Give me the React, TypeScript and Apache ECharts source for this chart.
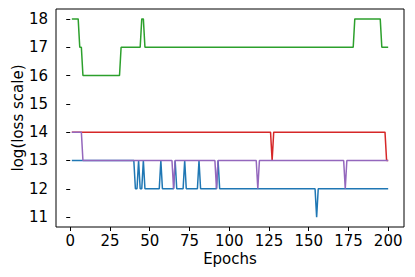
import React, { useEffect, useRef } from "react";
import * as echarts from "echarts";

// Run-length readings of each series: [firstEpoch, lastEpoch, log(loss scale)]
const blueRuns: [number, number, number][] = [
  [1, 40, 13], [41, 42, 12], [43, 43, 13], [44, 45, 12], [46, 46, 13],
  [47, 56, 12], [57, 57, 13], [58, 65, 12], [66, 66, 13], [67, 71, 12],
  [72, 72, 13], [73, 80, 12], [81, 81, 13], [82, 92, 12], [93, 93, 13],
  [94, 154, 12], [155, 155, 11], [156, 200, 12],
];
const greenRuns: [number, number, number][] = [
  [1, 5, 18], [6, 7, 17], [8, 31, 16], [32, 44, 17], [45, 46, 18],
  [47, 178, 17], [179, 195, 18], [196, 200, 17],
];
const redRuns: [number, number, number][] = [
  [1, 126, 14], [127, 127, 13], [128, 198, 14], [199, 200, 13],
];
const purpleRuns: [number, number, number][] = [
  [1, 7, 14], [8, 64, 13], [65, 65, 12], [66, 91, 13], [92, 92, 12],
  [93, 117, 13], [118, 118, 12], [119, 172, 13], [173, 173, 12], [174, 200, 13],
];

const xTicks = [0, 25, 50, 75, 100, 125, 150, 175, 200];
const yTicks = [11, 12, 13, 14, 15, 16, 17, 18];

const seriesColors = ["#1f77b4", "#2ca02c", "#d62728", "#9467bd"];

function expand(runs: [number, number, number][]): [number, number][] {
  const out: [number, number][] = [];
  for (const [a, b, v] of runs) {
    for (let e = a; e <= b; e++) out.push([e, v]);
  }
  return out;
}

const FONT = "DejaVu Sans";

export default function App() {
  const ref = useRef<HTMLDivElement>(null);
  useEffect(() => {
    if (!ref.current) return;
    const chart = echarts.init(ref.current, undefined, { renderer: "svg" });
    const all = [blueRuns, greenRuns, redRuns, purpleRuns];
    chart.setOption({
      animation: false,
      backgroundColor: "#ffffff",
      grid: {
        left: 56,
        top: 9,
        width: 348,
        height: 218,
        outerBoundsMode: "none",
        containLabel: false,
        show: true,
        borderColor: "#000",
        borderWidth: 1,
        backgroundColor: "transparent",
      },
      xAxis: {
        type: "value",
        min: -8.95,
        max: 209.95,
        name: "Epochs",
        nameLocation: "middle",
        nameGap: 24,
        nameMoveOverlap: false,
        nameTextStyle: { color: "#000", fontFamily: FONT, fontSize: 15 },
        axisLine: { show: false },
        splitLine: { show: false },
        axisTick: { show: true, length: 4, lineStyle: { color: "#000", width: 1 }, customValues: xTicks },
        axisLabel: { color: "#000", fontFamily: FONT, fontSize: 15, margin: 6, customValues: xTicks },
      },
      yAxis: {
        type: "value",
        min: 10.65,
        max: 18.35,
        name: "log(loss scale)",
        nameLocation: "middle",
        nameGap: 31,
        nameMoveOverlap: false,
        nameTextStyle: { color: "#000", fontFamily: FONT, fontSize: 15 },
        axisLine: { show: false },
        splitLine: { show: false },
        axisTick: { show: true, length: 4, lineStyle: { color: "#000", width: 1 }, customValues: yTicks },
        axisLabel: { color: "#000", fontFamily: FONT, fontSize: 15, margin: 8, customValues: yTicks },
      },
      series: all.map((runs, i) => ({
        type: "line",
        data: expand(runs),
        showSymbol: false,
        symbol: "none",
        lineStyle: { color: seriesColors[i], width: 1.5 },
        itemStyle: { color: seriesColors[i] },
        z: 2 + i,
      })),
    });
    return () => chart.dispose();
  }, []);
  return (
    <div
      ref={ref}
      style={{ position: "fixed", left: 0, top: 0, width: 415, height: 277 }}
    />
  );
}
